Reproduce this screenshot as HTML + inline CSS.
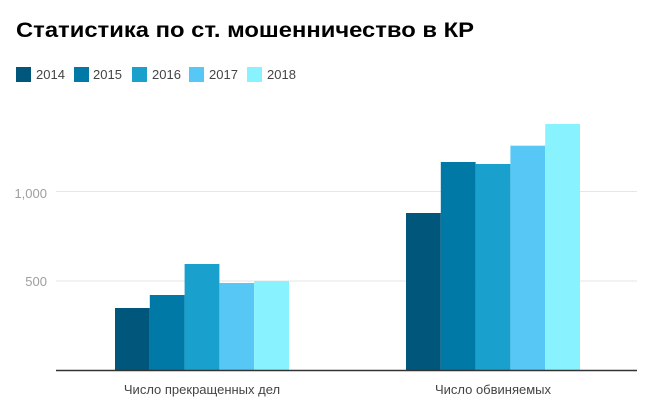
<!DOCTYPE html>
<html><head><meta charset="utf-8"><style>
html,body{margin:0;padding:0;background:#fff;}
svg{display:block;}
text{font-family:"Liberation Sans",Arial,sans-serif;}
</style></head><body>
<svg width="654" height="412" viewBox="0 0 654 412" xmlns="http://www.w3.org/2000/svg">
<rect width="654" height="412" fill="#fff"/>
<text x="16" y="37" font-size="21" font-weight="bold" fill="#000" textLength="458" lengthAdjust="spacingAndGlyphs">Статистика по ст. мошенничество в КР</text>
<g font-size="13" fill="#444">
<rect x="16" y="67" width="15" height="15" fill="#00567b"/><text x="36" y="79">2014</text>
<rect x="74" y="67" width="15" height="15" fill="#0079a6"/><text x="93" y="79">2015</text>
<rect x="132" y="67" width="15" height="15" fill="#19a0cd"/><text x="152" y="79">2016</text>
<rect x="189" y="67" width="15" height="15" fill="#57c8f5"/><text x="209" y="79">2017</text>
<rect x="247" y="67" width="15" height="15" fill="#88f3ff"/><text x="267" y="79">2018</text>
</g>
<g stroke="#e6e6e6" stroke-width="1">
<line x1="56" y1="191.5" x2="637" y2="191.5"/>
<line x1="56" y1="281" x2="637" y2="281"/>
</g>
<g font-size="13" fill="#9e9e9e" text-anchor="end">
<text x="47" y="198">1,000</text>
<text x="47" y="286">500</text>
</g>
<g>
<rect x="115" y="308" width="34.8" height="62" fill="#00567b"/>
<rect x="149.8" y="295" width="34.8" height="75" fill="#0079a6"/>
<rect x="184.6" y="264" width="34.8" height="106" fill="#19a0cd"/>
<rect x="219.4" y="283" width="34.8" height="87" fill="#57c8f5"/>
<rect x="254.2" y="281" width="34.8" height="89" fill="#88f3ff"/>
<rect x="406" y="213" width="34.8" height="157" fill="#00567b"/>
<rect x="440.8" y="162" width="34.8" height="208" fill="#0079a6"/>
<rect x="475.6" y="164" width="34.8" height="206" fill="#19a0cd"/>
<rect x="510.4" y="145.7" width="34.8" height="224.3" fill="#57c8f5"/>
<rect x="545.2" y="124" width="34.8" height="246" fill="#88f3ff"/>
</g>
<line x1="56" y1="370.5" x2="637" y2="370.5" stroke="#333" stroke-width="1.5"/>
<g font-size="13" fill="#444" text-anchor="middle">
<text x="202" y="394">Число прекращенных дел</text>
<text x="493" y="394">Число обвиняемых</text>
</g>
</svg>
</body></html>
